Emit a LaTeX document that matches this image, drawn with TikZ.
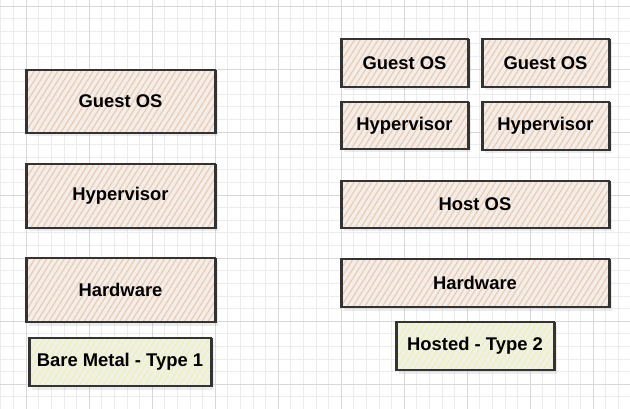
\documentclass[tikz,border=0pt]{standalone}
\usepackage{fontspec}
\setmainfont{Liberation Sans}
\usetikzlibrary{patterns.meta,shadows}

\definecolor{gridminor}{HTML}{ECECEC}
\definecolor{gridmajor}{HTML}{D8D8D8}
\definecolor{hatchorange}{HTML}{F7C9A0}
\definecolor{hatchyellow}{HTML}{F2F59A}
\definecolor{boxbg}{HTML}{EFEFEF}
\definecolor{boxline}{HTML}{333333}

\tikzset{
  layer/.style={draw=boxline, line width=1.2pt,
    minimum width=#1, inner sep=0pt,
    font=\bfseries\fontsize{18.4}{20}\selectfont,
    drop shadow={opacity=0.15, shadow xshift=2.5pt, shadow yshift=-3.5pt},
    preaction={fill=boxbg},
    pattern={Lines[angle=58,distance=5pt,line width=1.2pt]},
    pattern color=hatchorange,
    postaction={draw=boxline, line width=0.5pt,
      transform canvas={shift={(0.8pt,-0.7pt)}}}},
  label/.style={layer=#1, pattern color=hatchyellow}
}

\begin{document}
\begin{tikzpicture}[x=1pt,y=-1pt]
\useasboundingbox[fill=white] (0,0) rectangle (630,409);

% background grid
\foreach \i in {-2,...,48}
  \draw[gridminor, line width=0.6pt] ({26+12.6*\i},0) -- ({26+12.6*\i},409);
\foreach \i in {0,...,32}
  \draw[gridminor, line width=0.6pt] (0,{6+12.6*\i}) -- (630,{6+12.6*\i});
\foreach \i in {0,...,9}
  \draw[gridmajor, line width=0.7pt] ({26+63*\i},0) -- ({26+63*\i},409);
\foreach \i in {0,...,6}
  \draw[gridmajor, line width=0.7pt] (0,{6+63*\i}) -- (630,{6+63*\i});

% bare metal
\def\xl{120.5}
\node[layer=189pt, minimum height=63pt] (guest) at (\xl, 101.5) {Guest OS};
\node[layer=189pt, minimum height=64pt] (hyp) at (\xl, 196) {Hypervisor};
\node[layer=189pt, minimum height=64pt] (hw) at (\xl, 290) {Hardware};
\node[label=182pt, minimum height=48pt] (type1) at (120, 362) {Bare Metal - Type 1};

% hosted
\def\xa{404.5}
\def\xb{545.5}
\def\xr{475}
\node[layer=127pt, minimum height=48pt] (guesta) at (\xa, 63) {Guest OS};
\node[layer=127pt, minimum height=48pt] (guestb) at (\xb, 63) {Guest OS};
\node[layer=127pt, minimum height=47pt] (hypa) at (\xa, 125.5) {Hypervisor};
\node[layer=127pt, minimum height=48pt] (hypb) at (\xb, 126) {Hypervisor};
\node[layer=268pt, minimum height=47pt] (host) at (\xr, 204.5) {Host OS};
\node[layer=268pt, minimum height=48pt] (hwr) at (\xr, 283) {Hardware};
\node[label=158pt, minimum height=48pt] (type2) at (\xr, 346) {Hosted - Type 2};

\end{tikzpicture}
\end{document}
